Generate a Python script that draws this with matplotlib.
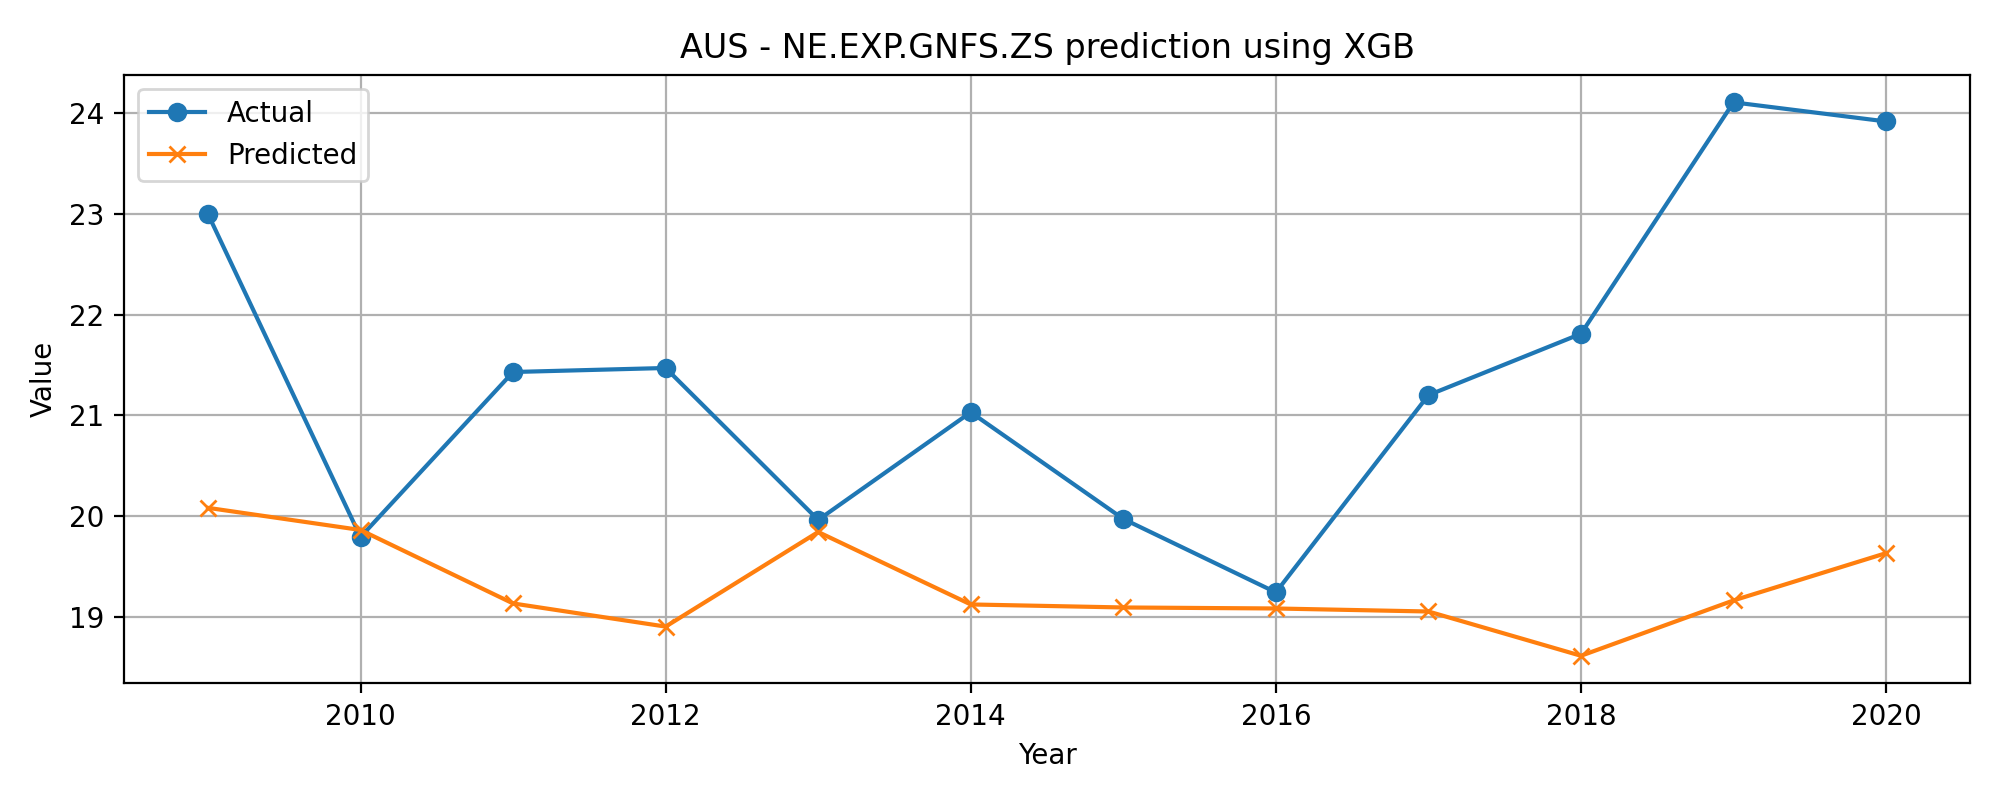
import matplotlib
matplotlib.use("Agg")
import matplotlib.pyplot as plt

years = [2009, 2010, 2011, 2012, 2013, 2014, 2015, 2016, 2017, 2018, 2019, 2020]
actual = [23.00, 19.79, 21.43, 21.47, 19.96, 21.03, 19.97, 19.24, 21.20, 21.81, 24.11, 23.92]
predicted = [20.08, 19.86, 19.13, 18.90, 19.84, 19.12, 19.09, 19.08, 19.05, 18.61, 19.16, 19.63]

fig, ax = plt.subplots(figsize=(10, 4))
ax.plot(years, actual, marker='o', label='Actual')
ax.plot(years, predicted, marker='x', label='Predicted')
ax.set_title("AUS - NE.EXP.GNFS.ZS prediction using XGB")
ax.set_xlabel("Year")
ax.set_ylabel("Value")
ax.legend()
ax.grid(True)
fig.tight_layout()
fig.savefig("out.png", dpi=200)
